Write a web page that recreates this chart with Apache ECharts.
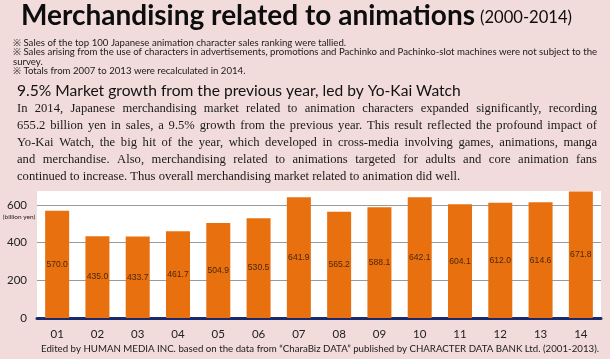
<!DOCTYPE html>
<html>
<head>
<meta charset="utf-8">
<script src="https://cdn.jsdelivr.net/npm/echarts@6/dist/echarts.min.js"></script>
<style>
html,body{margin:0;padding:0;background:#f2dcdb;}
#c{width:610px;height:359px;}
</style>
</head>
<body>
<div id="c"></div>
<script>
// ---- data ----
var categories = ['01','02','03','04','05','06','07','08','09','10','11','12','13','14'];
var sales = [570.0,435.0,433.7,461.7,504.9,530.5,641.9,565.2,588.1,642.1,604.1,612.0,614.6,671.8];
var yUnit = '(billion yen)';
var titleMain = 'Merchandising related to animations';
var titleYears = '(2000-2014)';
var notes = [
  '※ Sales of the top 100 Japanese animation character sales ranking were tallied.',
  '※ Sales arising from the use of characters in advertisements, promotions and Pachinko and Pachinko-slot machines were not subject to the',
  'survey.',
  '※ Totals from 2007 to 2013 were recalculated in 2014.'
];
var subHeading = '9.5% Market growth from the previous year, led by Yo-Kai Watch';
var paragraph = [
  'In 2014, Japanese merchandising market related to animation characters expanded significantly, recording',
  '655.2 billion yen in sales, a 9.5% growth from the previous year. This result reflected the profound impact of',
  'Yo-Kai Watch, the big hit of the year, which developed in cross-media involving games, animations, manga',
  'and merchandise. Also, merchandising related to animations targeted for adults and core animation fans',
  'continued to increase. Thus overall merchandising market related to animation did well.'
];
var footnote = 'Edited by HUMAN MEDIA INC. based on the data from \u201CCharaBiz DATA\u201D published by CHARACTER DATA BANK Ltd. (2001-2013).';

// ---- layout ----
var chart = echarts.init(document.getElementById('c'), null, {renderer:'canvas'});
var cv = document.createElement('canvas').getContext('2d');
function textEl(txt, x, y, font, size, weight, color, align){
  return {type:'text', x:x, y:y, silent:true,
    style:{text:txt, fontFamily:font, fontSize:size, fontWeight:weight||'normal',
      fill:color||'#111', align:align||'left', verticalAlign:'middle'}};
}
var els = [];
els.push(textEl(titleMain, 21, 15.5, 'Lato', 28, 'bold', '#0d0d0d'));
els.push(textEl(titleYears, 480, 17.5, 'Lato', 16.6, 'normal', '#0d0d0d'));
var noteY = [42.5, 52, 61.5, 71];
notes.forEach(function(t,i){ els.push(textEl(t, 13, noteY[i], 'Lato', 9.65, 'normal', '#1a1a1a')); });
els.push(textEl(subHeading, 17, 91, 'Lato', 15.6, 'normal', '#111'));

var pFont = 'Liberation Serif', pSize = 12.6;
var pY = [109, 126, 143, 160, 176.5];
var px0 = 17, px1 = 597;
cv.font = pSize + 'px "' + pFont + '"';
paragraph.forEach(function(line, i){
  if (i === paragraph.length - 1) {
    els.push(textEl(line, px0, pY[i], pFont, pSize, 'normal', '#1a1a1a'));
    return;
  }
  var words = line.split(' ');
  var total = 0;
  words.forEach(function(w){ total += cv.measureText(w).width; });
  var gap = (px1 - px0 - total) / (words.length - 1);
  var x = px0;
  words.forEach(function(w){
    els.push(textEl(w, x, pY[i], pFont, pSize, 'normal', '#1a1a1a'));
    x += cv.measureText(w).width + gap;
  });
});
els.push(textEl(yUnit, 19, 217, 'Lato', 6.5, 'normal', '#222', 'center'));
els.push(textEl(footnote, 320, 349, 'Lato', 9.7, 'normal', '#1a1a1a', 'center'));

chart.setOption({
  backgroundColor:'#f2dcdb',
  animation:false,
  grid:{left:37, right:9, top:191, bottom:41, show:true, backgroundColor:'#ffffff', borderWidth:0},
  xAxis:{type:'category', data:categories,
    axisLine:{show:true, lineStyle:{color:'#1b2a6b', width:3}},
    axisTick:{show:false},
    axisLabel:{color:'#222', fontSize:11.5, fontFamily:'Lato', margin:10}},
  yAxis:{type:'value', min:0, max:675, interval:200,
    axisLine:{show:false}, axisTick:{show:false},
    axisLabel:{color:'#222', fontSize:11.5, fontFamily:'Lato', margin:10, showMaxLabel:false,
      formatter:function(v){ return v % 200 === 0 ? String(v) : ''; }},
    splitLine:{lineStyle:{color:['#9a9a9a','#9a9a9a','#9a9a9a','#9a9a9a','#ffffff'], width:1}}},
  series:[{type:'bar', data:sales, barWidth:24,
    itemStyle:{color:'#e8700f'},
    label:{show:true, position:'inside', color:'#4a2808', fontSize:8.6, fontFamily:'Liberation Sans Narrow, Liberation Sans',
      formatter:function(p){ return p.value.toFixed(1); }}}],
  graphic:els
});
</script>
</body>
</html>
